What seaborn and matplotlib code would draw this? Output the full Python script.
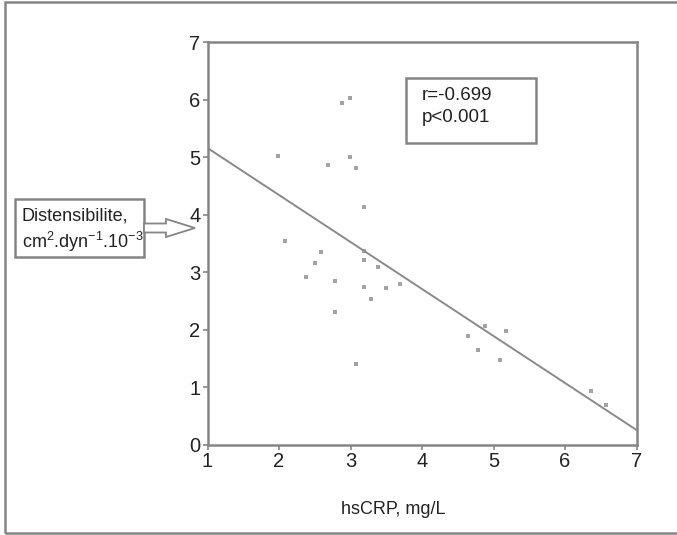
import matplotlib
matplotlib.use("Agg")
import matplotlib.pyplot as plt
import seaborn as sns
import pandas as pd
from matplotlib.patches import Rectangle, FancyArrow

# values
hs_crp = [2.88, 2.99, 1.98, 2.68, 2.99, 3.08, 3.19,
          2.09, 2.59, 2.50, 2.38, 2.79, 2.79, 3.19, 3.19, 3.38,
          3.19, 3.49, 3.69, 3.29, 3.08,
          4.88, 4.65, 5.18, 4.78, 5.09, 6.37, 6.58]
distensibility = [5.94, 6.03, 5.02, 4.86, 5.00, 4.81, 4.13,
                  3.55, 3.36, 3.16, 2.92, 2.84, 2.31, 3.37, 3.22, 3.10,
                  2.74, 2.73, 2.80, 2.53, 1.41,
                  2.07, 1.89, 1.98, 1.65, 1.47, 0.93, 0.70]
x_ticks = [1, 2, 3, 4, 5, 6, 7]
y_ticks = [0, 1, 2, 3, 4, 5, 6, 7]
stats_lines = ["r=-0.699", "p<0.001"]
y_label_lines = ["Distensibilite,", r"cm$^{2}$.dyn$^{-1}$.10$^{-3}$"]
x_label = "hsCRP, mg/L"

sns.set_style("white")
font = "Liberation Sans"
plt.rcParams["font.family"] = [font, "DejaVu Sans"]
plt.rcParams["mathtext.fontset"] = "custom"
plt.rcParams["mathtext.rm"] = font
plt.rcParams["mathtext.it"] = font
plt.rcParams["mathtext.bf"] = font
plt.rcParams["mathtext.default"] = "rm"

W, H = 677, 535
grey = "#858585"
ink = "#222222"
fs = 13.5


def fx(px):
    return px / W


def fy(py):
    return 1 - py / H


df = pd.DataFrame({"hsCRP": hs_crp, "dist": distensibility})

fig = plt.figure(figsize=(W / 100, H / 100), dpi=100)
ax = fig.add_axes([fx(207.5), fy(445), fx(636.5) - fx(207.5), fy(42) - fy(445)])
ax.set_xlim(1, 7)
ax.set_ylim(0, 7)

sns.regplot(data=df, x="hsCRP", y="dist", ax=ax, ci=None, truncate=False,
            marker="s",
            scatter_kws=dict(s=12, color="#8c8c8c", linewidths=0),
            line_kws=dict(color="#8a8a8a", lw=1.4))

ax.set_xlim(1, 7)
ax.set_ylim(0, 7)
ax.set_xticks(x_ticks)
ax.set_yticks(y_ticks)
ax.set_xlabel("")
ax.set_ylabel("")
for sp in ax.spines.values():
    sp.set_color(grey)
    sp.set_linewidth(1.8)
ax.tick_params(axis="both", which="major", direction="out", length=3.5,
               width=1.2, color=grey, labelsize=14.5, labelcolor=ink, pad=1.5)
ax.tick_params(axis="both", left=True, bottom=True)

# x label, sitting a little left of the axes centre
fig.text(fx(393), fy(510), x_label, ha="center", va="center", fontsize=13,
         color=ink)

# stats box
fig.patches.append(Rectangle((fx(406), fy(143)), fx(536) - fx(406), fy(78) - fy(143),
                             transform=fig.transFigure, fill=False, ec=grey, lw=1.8))
fig.text(fx(422), fy(96), stats_lines[0], ha="left", va="center", fontsize=fs,
         color=ink)
fig.text(fx(422), fy(118), stats_lines[1], ha="left", va="center", fontsize=fs,
         color=ink)

# y label box with hollow arrow
fig.patches.append(Rectangle((fx(15), fy(257)), fx(144) - fx(15), fy(199) - fy(257),
                             transform=fig.transFigure, fill=False, ec=grey, lw=1.8))
fig.text(fx(22), fy(216), y_label_lines[0], ha="left", va="center", fontsize=13,
         color=ink)
fig.text(fx(22), fy(242), y_label_lines[1], ha="left", va="center", fontsize=13,
         color=ink)
fig.patches.append(FancyArrow(fx(144), fy(228), fx(195) - fx(144), 0,
                              width=9 / H, head_width=18 / H,
                              head_length=fx(195) - fx(166),
                              length_includes_head=True,
                              transform=fig.transFigure, fc="white", ec=grey, lw=1.3))

# outer frame
fig.patches.append(Rectangle((fx(5), fy(533)), fx(690) - fx(5), fy(2) - fy(533),
                             transform=fig.transFigure, fill=False, ec=grey, lw=1.8))

fig.savefig("out.png", dpi=100)
